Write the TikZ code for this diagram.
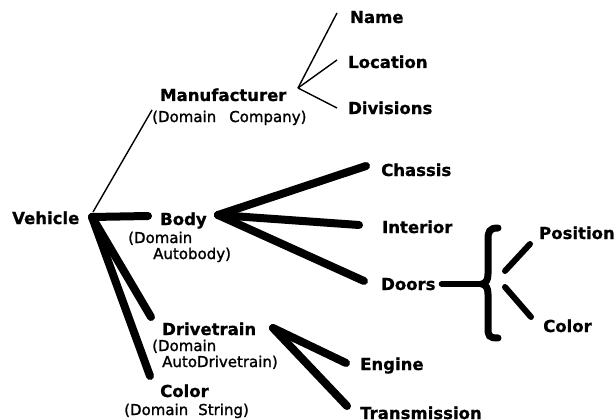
\documentclass[tikz,border=0pt]{standalone}
\usepackage{fontspec}
\setmainfont{DejaVu Sans}
\newfontfamily\heavyfont{DejaVu Sans}[FakeBold=0.8]
\newfontfamily\domfont{DejaVu Sans}[FakeBold=1.4]
\usetikzlibrary{positioning}
\definecolor{inkBlack}{HTML}{000000}

\begin{document}
\begin{tikzpicture}[
    x=1pt, y=-1pt,
    attr/.style={anchor=base west, inner sep=0pt, text=inkBlack,
                 font=\heavyfont\fontsize{16.5}{19}\selectfont\bfseries},
    domtext/.style={anchor=base west, inner sep=0pt, align=left, text=inkBlack,
                   font=\domfont\fontsize{15}{16}\selectfont},
    thinlink/.style={line width=1.4pt, inkBlack},
    fatlink/.style={line width=8pt, line cap=round, inkBlack},
    midlink/.style={line width=6pt, line cap=round, inkBlack},
    braceline/.style={line width=7pt, line cap=round, inkBlack},
]
    \fill[white] (0,0) rectangle (614,420);
    \useasboundingbox (0,0) rectangle (614,420);

    % Root
    \node[attr] (vehicle) at (12,224) {Vehicle};
    \coordinate (vJ) at (92,217);

    % Level 1: parts of the vehicle
    \node[attr] (manufacturer) at (160,101) {Manufacturer};
    \node[domtext] (mfrdomain) at (152,122) {(Domain\hspace{13pt}Company)};
    \node[attr] (body) at (160,225) {Body};
    \node[domtext] (bodydomain) at (128,259) {(Domain\\\hspace*{25pt}Autobody)};
    \node[attr] (drivetrain) at (162,335) {Drivetrain};
    \node[domtext] (drivedomain) at (152,367) {(Domain\\\hspace*{10pt}AutoDrivetrain)};
    \node[attr] (color) at (160,397) {Color};
    \node[domtext] (colordomain) at (124,415) {(Domain\hspace{10pt}String)};

    % Level 2: manufacturer
    \coordinate (mJ) at (298,88);
    \node[attr] (name) at (350,23) {Name};
    \node[attr] (location) at (348,68) {Location};
    \node[attr] (divisions) at (348,114) {Divisions};

    % Level 2: body
    \coordinate (bJ) at (218,215);
    \node[attr] (chassis) at (381,176) {Chassis};
    \node[attr] (interior) at (382,233) {Interior};
    \node[attr] (doors) at (381,290) {Doors};

    % Level 2: drivetrain
    \coordinate (dJ) at (273,328);
    \node[attr] (engine) at (360,370) {Engine};
    \node[attr] (transmission) at (360,419) {Transmission};

    % Level 3: doors
    \coordinate (braceTip) at (482,284);
    \coordinate (posJ) at (505,271);
    \coordinate (colJ) at (505,287);
    \node[attr] (position) at (539,239) {Position};
    \node[attr] (doorcolor) at (543,332) {Color};

    % Links
    \draw[thinlink] (93,212) -- ([yshift=12pt]mfrdomain.base west);
    \draw[fatlink] (vJ) -- ([xshift=-12pt,yshift=9pt]body.base west);
    \draw[fatlink] (vJ) -- ([xshift=-11pt,yshift=18pt]drivetrain.base west);
    \draw[fatlink] (vJ) -- ([xshift=-10pt,yshift=21pt]color.base west);

    \draw[thinlink] (mJ) -- ([xshift=-13pt,yshift=10pt]name.base west);
    \draw[thinlink] (mJ) -- ([xshift=-11pt,yshift=8pt]location.base west);
    \draw[thinlink] (mJ) -- ([xshift=-11pt,yshift=6pt]divisions.base west);

    \draw[fatlink] (bJ) -- ([xshift=-15pt,yshift=10pt]chassis.base west);
    \draw[fatlink] (bJ) -- ([xshift=-23pt,yshift=8pt]interior.base west);
    \draw[fatlink] (bJ) -- ([xshift=-17pt,yshift=9pt]doors.base west);

    \draw[fatlink] (dJ) -- ([xshift=-14pt,yshift=7pt]engine.base west);
    \draw[fatlink] (dJ) -- ([xshift=-13pt,yshift=13pt]transmission.base west);

    \draw[midlink] ([xshift=6pt,yshift=6pt]doors.base east) -- (braceTip);
    \draw[braceline] (498,228) .. controls (489,228) and (488,232) .. (488,240)
        -- (488,274) .. controls (488,280) and (486,283) .. (482,284)
        .. controls (486,285) and (488,288) .. (488,294)
        -- (488,328) .. controls (488,336) and (489,338) .. (498,338);
    \draw[midlink] (posJ) -- ([xshift=-9pt,yshift=-5pt]position.base west);
    \draw[midlink] (colJ) -- ([xshift=-12pt,yshift=15pt]doorcolor.base west);
\end{tikzpicture}
\end{document}
